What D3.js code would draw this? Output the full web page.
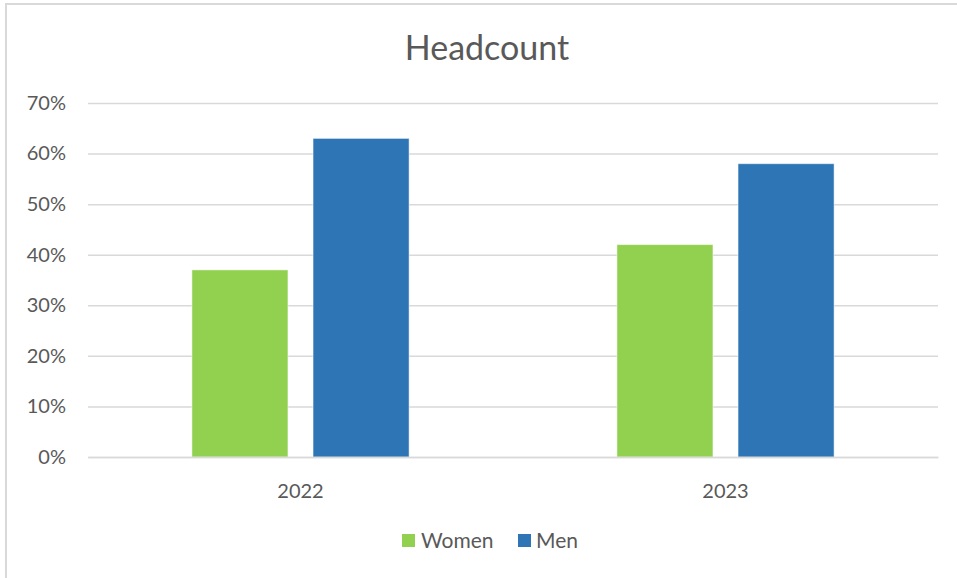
<!DOCTYPE html>
<html>
<head>
<meta charset="utf-8">
<script src="https://cdn.jsdelivr.net/npm/d3@7"></script>
<style>
  html, body { margin: 0; padding: 0; background: #fff; }
  svg { display: block; }
  text { font-family: Lato, "Noto Sans", sans-serif; fill: #595959; }
</style>
</head>
<body>
<svg id="chart" width="957" height="578"></svg>
<script>
// Headcount share by year and gender
const years = ["2022", "2023"];
const seriesNames = ["Women", "Men"];
const women = [0.37, 0.42];
const men = [0.63, 0.58];
const yTicks = [0, 0.1, 0.2, 0.3, 0.4, 0.5, 0.6, 0.7];

const colors = { Women: "#92d050", Men: "#2e75b6" };
const valuesBySeries = { Women: women, Men: men };

const svg = d3.select("#chart");
const W = 957, H = 578;
const plot = { left: 88, right: 938, top: 103, bottom: 457 };

// chart frame
svg.append("path")
  .attr("d", `M6,${H} V4 H${W}`)
  .attr("fill", "none")
  .attr("stroke", "#d9d9d9")
  .attr("stroke-width", 2);

// title
svg.append("text")
  .attr("x", 487).attr("y", 60)
  .attr("text-anchor", "middle")
  .style("font-size", "34px")
  .text("Headcount");

const x0 = d3.scaleBand()
  .domain(years)
  .range([plot.left, plot.right])
  .paddingInner(0.489)
  .paddingOuter(0.489 / 2);

const x1 = d3.scaleBand()
  .domain(seriesNames)
  .range([0, x0.bandwidth()])
  .paddingInner(0.207)
  .paddingOuter(0);

const y = d3.scaleLinear()
  .domain([0, 0.7])
  .range([plot.bottom, plot.top]);

// gridlines + y labels
const yAxis = d3.axisLeft(y)
  .tickValues(yTicks)
  .tickFormat(d3.format(".0%"))
  .tickSize(-(plot.right - plot.left))
  .tickPadding(22);

const gy = svg.append("g")
  .attr("transform", `translate(${plot.left},0)`)
  .call(yAxis);
gy.select(".domain").remove();
gy.selectAll(".tick line")
  .attr("stroke", "#d9d9d9")
  .attr("stroke-width", 1.5);
gy.selectAll(".tick text")
  .style("font-size", "20px")
  .style("font-family", "Lato, 'Noto Sans', sans-serif")
  .attr("fill", "#595959");

// bars
const groups = svg.append("g")
  .selectAll("g")
  .data(years.map((yr, i) => ({ yr, i })))
  .join("g")
  .attr("transform", d => `translate(${x0(d.yr)},0)`);

groups.selectAll("rect")
  .data(d => seriesNames.map(s => ({ s, v: valuesBySeries[s][d.i] })))
  .join("rect")
  .attr("x", d => x1(d.s))
  .attr("width", x1.bandwidth())
  .attr("y", d => y(d.v))
  .attr("height", d => y(0) - y(d.v))
  .attr("fill", d => colors[d.s])
  .attr("stroke", "#ffffff")
  .attr("stroke-opacity", 0.5)
  .attr("stroke-width", 1);

// x axis
const xAxis = d3.axisBottom(x0).tickSize(0).tickPadding(27);
const gx = svg.append("g")
  .attr("transform", `translate(0,${plot.bottom})`)
  .call(xAxis);
gx.select(".domain").attr("stroke", "#d9d9d9").attr("stroke-width", 1.5);
gx.selectAll(".tick text")
  .style("font-size", "20px")
  .style("font-family", "Lato, 'Noto Sans', sans-serif")
  .attr("fill", "#595959");

// legend
const legendItems = [
  { name: "Women", sx: 402, tx: 421 },
  { name: "Men", sx: 518, tx: 536 }
];
const lg = svg.append("g");
legendItems.forEach(item => {
  lg.append("rect")
    .attr("x", item.sx).attr("y", 534)
    .attr("width", 13).attr("height", 13)
    .attr("fill", colors[item.name]);
  lg.append("text")
    .attr("x", item.tx).attr("y", 548)
    .style("font-size", "21px")
    .text(item.name);
});
</script>
</body>
</html>
